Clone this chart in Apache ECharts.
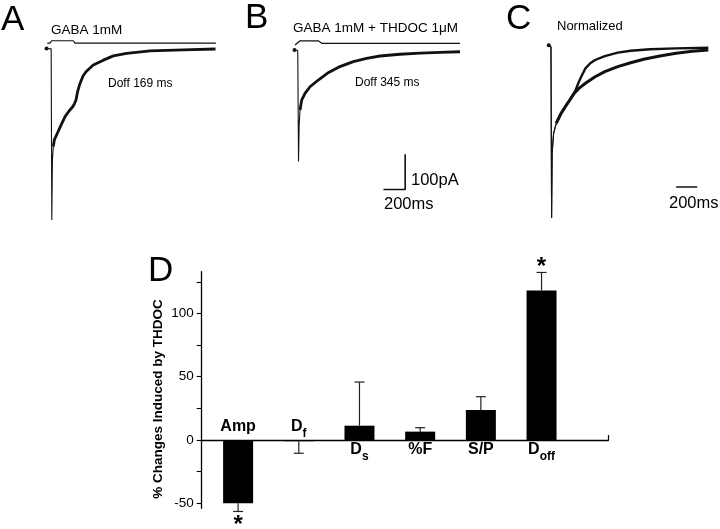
<!DOCTYPE html>
<html><head><meta charset="utf-8">
<script src="https://cdn.jsdelivr.net/npm/echarts@6/dist/echarts.min.js"></script>
<style>html,body{margin:0;padding:0;background:#fff}#c{width:720px;height:529px}</style>
</head><body><div id="c"></div>
<script>
// ---------- Panel A: GABA 1mM (time ms, current pA) ----------
const traceA = [[-48,0],[-5,-1],[1,-486],[6.5,-316],[15,-278],[24,-259],[52,-240],[86,-217],[123,-193],[160,-177],[194,-165],[210,-156],[224,-146],[238,-123],[261,-99],[289,-78],[316,-66],[383,-47],[476,-33],[568,-21],[691,-14],[906,-7],[1210,-4],[1510,-1.4]];
const stepA = [[-41,15],[-16,15],[0,22],[199,22],[215,15],[1514,15]];
// ---------- Panel B: GABA 1mM + THDOC 1uM ----------
const traceB = [[-35,0],[-5,-1.4],[2,-316],[8,-212],[16,-170],[31,-142],[62,-123],[108,-104],[184,-85],[267,-66],[384,-47],[507,-33],[630,-24],[753,-17],[937,-12],[1122,-9],[1306,-6.5],[1490,-5]];
const stepB = [[-30,14],[16,26],[184,26],[216,19],[1490,19]];
const scaleTimeMs = 200, scaleCurrentPA = 100;
const scaleCornerB = [985, -395];
// ---------- Panel C: normalized ----------
const traceCfast = [[-25,0.01],[-4,0],[2,-1.0],[7,-0.62],[21,-0.505],[46,-0.446],[92,-0.388],[132,-0.349],[175,-0.31],[215,-0.271],[230,-0.251],[261,-0.203],[291,-0.164],[323,-0.125],[369,-0.095],[415,-0.076],[507,-0.053],[630,-0.033],[752,-0.022],[937,-0.013],[1183,-0.008],[1489,-0.004]];
const traceCslow = [[-25,0.01],[-4,0],[2,-1.0],[7,-0.62],[21,-0.505],[46,-0.446],[92,-0.388],[132,-0.349],[175,-0.31],[215,-0.271],[230,-0.261],[261,-0.242],[323,-0.212],[415,-0.174],[507,-0.144],[630,-0.115],[752,-0.092],[876,-0.072],[1029,-0.053],[1183,-0.037],[1336,-0.025],[1489,-0.018]];
const scaleStartC = [1184, -0.819];
// ---------- Panel D: bar chart ----------
const catMain = ['Amp','D','D','%F','S/P','D'];
const catSub  = ['','f','s','','','off'];
const pctChange = [-50, -1, 11.3, 6.6, 23.7, 118.2];
const semVals = [6.5, 9.5, 34.5, 3.1, 10.5, 14.2];
const significant = [true,false,false,false,false,true];
const yTicks = [-50,-25,0,25,50,75,100,125];
const yTickLabels = [-50,0,50,100];

const FONT = '"Liberation Sans", Arial, Helvetica, sans-serif';
const INK = '#000';
const xMaxD = 6.7, firstX = 0.6;
const xs = pctChange.map((v,i)=>i+firstX);

function thinThick(data, n){ return [data.slice(0,n+1), data.slice(n)]; }
function withBlob(data){ return data.map((p,i)=> i===0 ? {value:p, symbol:'circle', symbolSize:4} : p); }
function lineS(idx, data, w){
  return {type:'line', xAxisIndex:idx, yAxisIndex:idx, data:data, symbol:'none', showSymbol:true,
    lineStyle:{color:'#111', width:w}, itemStyle:{color:'#111'}, silent:true, z:3};
}
const [aThin, aThick] = thinThick(traceA, 4);
const [bThin, bThick] = thinThick(traceB, 4);
const [cfThin, cfThick] = thinThick(traceCfast, 5);
const [csThin, csThick] = thinThick(traceCslow, 5);

const scaleB = [[scaleCornerB[0]-scaleTimeMs, scaleCornerB[1]], scaleCornerB, [scaleCornerB[0], scaleCornerB[1]+scaleCurrentPA]];
const scaleC = [scaleStartC, [scaleStartC[0]+scaleTimeMs, scaleStartC[1]]];

const hiddenX = (min,max,gi)=>({type:'value', gridIndex:gi, min, max, show:false});
const chart = echarts.init(document.getElementById('c'), null, {renderer:'canvas'});

function txt(x,y,text,size,weight){
  return {type:'text', x, y, silent:true, style:{text, font:(weight||'normal')+' '+size+'px '+FONT, fill:INK, align:'left', verticalAlign:'middle', textAlign:'left', textVerticalAlign:'middle'}};
}
const noBorder = {textBorderWidth:0, textBorderColor:'transparent', textShadowBlur:0, opacity:1};
const labStyle = (size, extra)=>Object.assign({fontSize:size, fontWeight:'bold', color:INK, fontFamily:FONT}, noBorder, extra||{});

const option = {
  animation:false,
  backgroundColor:'#fff',
  textStyle:{fontFamily:FONT},
  grid:[
    {left:40.85, top:30.85, width:184.45, height:194.15},
    {left:287.45, top:32.35, width:184.45, height:194.15},
    {left:540.85, top:29.9, width:184.45, height:196.65},
    {left:201.7, top:271.7, width:406.6, height:236.6}
  ],
  xAxis:[
    hiddenX(-100,1600,0), hiddenX(-100,1600,1), hiddenX(-100,1600,2),
    {type:'value', gridIndex:3, min:0, max:xMaxD,
     axisLine:{show:true, onZero:true, lineStyle:{color:INK, width:1.4}},
     axisTick:{show:true, inside:true, length:5, customValues:[xMaxD], lineStyle:{color:INK, width:1.2}},
     axisLabel:{show:false}, splitLine:{show:false}}
  ],
  yAxis:[
    {type:'value', gridIndex:0, min:-500, max:50, show:false},
    {type:'value', gridIndex:1, min:-500, max:50, show:false},
    {type:'value', gridIndex:2, min:-1.05, max:0.1, show:false},
    {type:'value', gridIndex:3, min:-54, max:133,
     axisLine:{show:true, lineStyle:{color:INK, width:1.3}},
     axisTick:{show:true, inside:false, length:5, customValues:yTicks, lineStyle:{color:INK, width:1.1}},
     axisLabel:{show:true, customValues:yTickLabels, margin:8, fontSize:13.5, color:INK, fontFamily:FONT},
     splitLine:{show:false},
     name:'% Changes Induced by THDOC', nameLocation:'middle', nameGap:36, nameMoveOverlap:false,
     nameTextStyle:{fontSize:13.5, fontWeight:'bold', color:INK, fontFamily:FONT, padding:[0,18,0,0]}}
  ],
  series:[
    lineS(0, stepA, 1.2),
    lineS(0, withBlob(aThin), 1.1),
    lineS(0, aThick, 2.8),
    lineS(1, stepB, 1.2),
    lineS(1, withBlob(bThin), 1.1),
    lineS(1, bThick, 2.8),
    lineS(1, scaleB, 1.6),
    lineS(2, withBlob(cfThin), 1.1),
    lineS(2, cfThick, 2.4),
    lineS(2, csThin, 1.1),
    lineS(2, csThick, 3),
    lineS(2, scaleC, 1.6),
    {type:'bar', xAxisIndex:3, yAxisIndex:3, barWidth:30, silent:true,
     data: pctChange.map((v,i)=>[xs[i], v]), itemStyle:{color:'#000'}, z:2},
    {type:'custom', xAxisIndex:3, yAxisIndex:3, silent:true, z:1, clip:false,
     data: pctChange.map((v,i)=>[xs[i], v, v + (v<0?-1:1)*semVals[i]]),
     encode:{x:0, y:[1,2]},
     renderItem:function(params, api){
       const x=api.value(0), m=api.value(1), e=api.value(2);
       const p0=api.coord([x,m]), p1=api.coord([x,e]);
       const st={stroke:'#222', lineWidth:1.2};
       return {type:'group', children:[
         {type:'line', shape:{x1:p0[0],y1:p0[1],x2:p1[0],y2:p1[1]}, style:st},
         {type:'line', shape:{x1:p1[0]-5,y1:p1[1],x2:p1[0]+5,y2:p1[1]}, style:st}
       ]};
     }},
    {type:'scatter', xAxisIndex:3, yAxisIndex:3, symbolSize:0, silent:true, z:5, clip:false,
     itemStyle:{opacity:1},
     data: pctChange.map((v,i)=>({value:[xs[i],0],
       label:Object.assign({show:true, position:'inside', offset:[0, v<=0 ? -13.5 : 10],
         formatter: catSub[i] ? '{m|'+catMain[i]+'}{s|'+catSub[i]+'}' : '{m|'+catMain[i]+'}',
         rich:{m:labStyle(16,{lineHeight:26, verticalAlign:'middle'}),
               s:labStyle(12,{lineHeight:26, verticalAlign:'bottom'})}}, labStyle(16))}))},
    {type:'scatter', xAxisIndex:3, yAxisIndex:3, symbolSize:0, silent:true, z:5, clip:false,
     itemStyle:{opacity:1},
     data: pctChange.map((v,i)=>({v,i})).filter(o=>significant[o.i]).map(o=>{
       const end = o.v + (o.v<0?-1:1)*semVals[o.i];
       return {value:[xs[o.i], end], label:Object.assign({show:true, position:'inside', offset:[0, o.v<0 ? 14 : -5], formatter:'*'}, labStyle(24))};
     })}
  ],
  graphic:[
    txt(1,20,'A',35), txt(245,18.5,'B',35), txt(506,19,'C',35), txt(148,271.5,'D',35),
    txt(51,30,'GABA 1mM',13.5),
    txt(108,84,'Doff 169 ms',12),
    txt(293,28,'GABA 1mM + THDOC 1\u03bcM',13.5),
    txt(355,83,'Doff 345 ms',12),
    txt(557,26,'Normalized',13),
    txt(411,180,'100pA',16.5),
    txt(384,204,'200ms',16.5),
    txt(669,203,'200ms',16.5)
  ]
};
chart.setOption(option);
</script></body></html>
